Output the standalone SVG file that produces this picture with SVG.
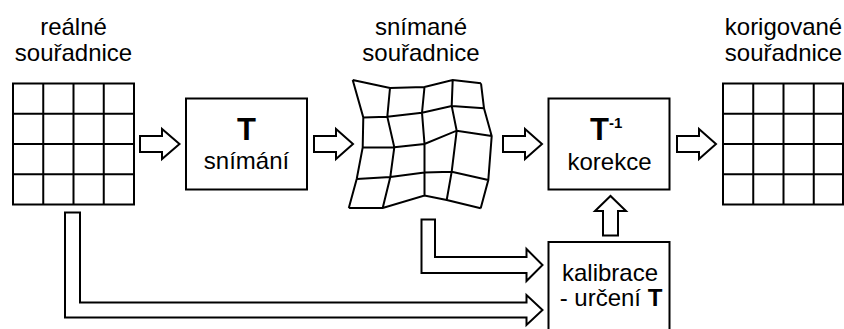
<svg xmlns="http://www.w3.org/2000/svg" width="844" height="329" viewBox="0 0 844 329">
<style>
  .ln { fill: none; stroke: #000; stroke-width: 2; stroke-linejoin: miter; }
  .box { fill: #fff; stroke: #000; stroke-width: 2; }
  .arr { fill: #fff; stroke: #000; stroke-width: 2; stroke-linejoin: miter; }
  .t { font-family: "Liberation Sans", Arial, sans-serif; font-size: 24px; fill: #000; text-anchor: middle; }
  .tb { font-family: "Liberation Sans", Arial, sans-serif; font-size: 31px; font-weight: bold; fill: #000; }
</style>
<rect width="844" height="329" fill="#fff"/>

<g id="real">
  <text class="t" x="73.5" y="35">reálné</text>
  <text class="t" x="73.5" y="61">souřadnice</text>
  <rect class="ln" x="13" y="83.5" width="121" height="121"/>
  <path class="ln" d="M43.25 83.5V204.5M73.5 83.5V204.5M103.75 83.5V204.5M13 113.75H134M13 144H134M13 174.25H134"/>
</g>

<g id="scan">
  <rect class="box" x="186" y="98.5" width="121" height="91"/>
  <text class="tb" x="246.5" y="140" text-anchor="middle">T</text>
  <text class="t" x="246.5" y="169">snímání</text>
</g>

<g id="sensed">
  <text class="t" x="421" y="35">snímané</text>
  <text class="t" x="421" y="61">souřadnice</text>
  <path class="ln" d="M352.7 80L390 88L424.5 87L452.7 80L481 83.3
    M363.3 117.5L387.3 116.7L422 112.7L451.7 106L484 108.3
    M362.7 147.5L394.3 147.3L424.5 144L456.7 130.7L491.7 136
    M356.7 179L390.3 177L424.5 172.5L451.7 171.7L488.3 180
    M348.8 208L382.7 208L424.5 195.5L446.7 200L480.7 208.3
    M352.7 80L363.3 117.5L362.7 147.5L356.7 179L348.8 208
    M390 88L387.3 116.7L394.3 147.3L390.3 177L382.7 208
    M424.5 87L422 112.7L424.5 144L424.5 172.5L424.5 195.5
    M452.7 80L451.7 106L456.7 130.7L451.7 171.7L446.7 200
    M481 83.3L484 108.3L491.7 136L488.3 180L480.7 208.3"/>
</g>

<g id="correct">
  <rect class="box" x="548.5" y="98.5" width="121" height="91"/>
  <text class="tb" x="590" y="140">T<tspan font-size="15" dy="-12.5">-1</tspan></text>
  <text class="t" x="609.5" y="170">korekce</text>
</g>

<g id="calib">
  <rect class="box" x="548.5" y="242" width="121" height="110"/>
  <text class="t" x="610" y="281">kalibrace</text>
  <text class="t" x="611" y="306">- určení <tspan font-weight="bold">T</tspan></text>
</g>

<g id="corrected">
  <text class="t" x="783.5" y="35">korigované</text>
  <text class="t" x="783.5" y="61">souřadnice</text>
  <rect class="ln" x="723" y="83.5" width="120" height="121"/>
  <path class="ln" d="M753.25 83.5V204.5M783.5 83.5V204.5M813.75 83.5V204.5M723 113.75H844M723 144H844M723 174.25H844"/>
</g>

<g id="connectors">
  <polygon class="arr" points="140,136 162,136 162,129 179.5,144 162,159 162,152 140,152"/>
  <polygon class="arr" points="314,136 336,136 336,129 353,144 336,159 336,152 314,152"/>
  <polygon class="arr" points="503,136 525,136 525,129 542,144 525,159 525,152 503,152"/>
  <polygon class="arr" points="677,136 699,136 699,129 716,144 699,159 699,152 677,152"/>
  <polygon class="arr" points="603,235.5 603,211 595,211 610.5,196 626,211 618,211 618,235.5"/>
  <polygon class="arr" points="65,212.5 80,212.5 80,302.5 526.5,302.5 526.5,295 542.5,310 526.5,325 526.5,317.5 65,317.5"/>
  <polygon class="arr" points="421.5,219.5 435,219.5 435,257 526.5,257 526.5,249 542.5,265 526.5,281 526.5,273 421.5,273"/>
</g>
</svg>
